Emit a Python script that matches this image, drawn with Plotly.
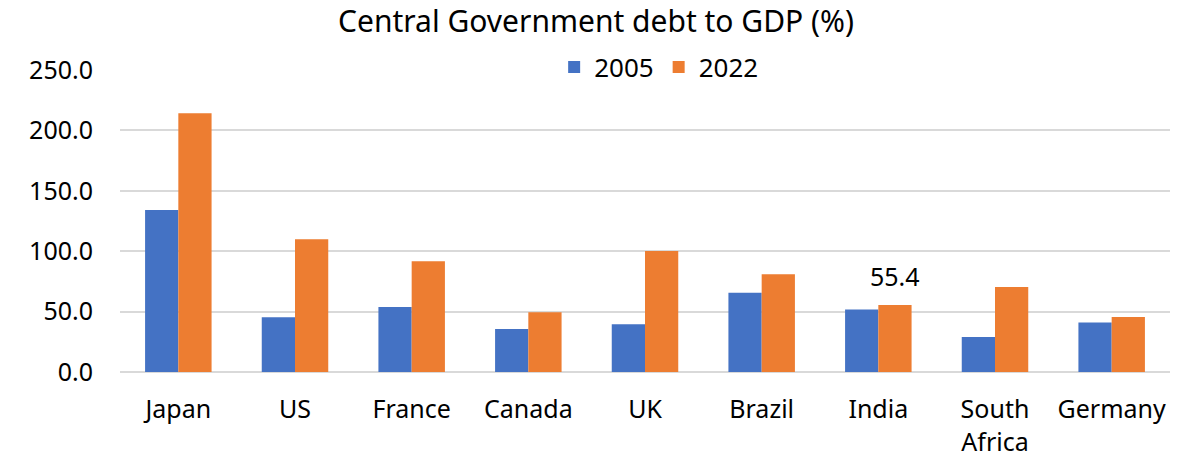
import plotly.graph_objects as go

categories = ["Japan", "US", "France", "Canada", "UK", "Brazil", "India", "South<br>Africa", "Germany"]
values_2005 = [134.1, 45.3, 53.8, 35.6, 39.5, 65.7, 51.7, 29.0, 40.9]
values_2022 = [214.1, 109.8, 91.6, 49.4, 100.2, 80.9, 55.4, 70.4, 45.5]
y_ticks = [0, 50, 100, 150, 200, 250]

FONT = "Noto Sans"

fig = go.Figure()
fig.add_trace(go.Bar(x=categories, y=values_2005, name="2005", marker=dict(color="#4472C4", line=dict(width=0))))
fig.add_trace(go.Bar(x=categories, y=values_2022, name="2022", marker=dict(color="#ED7D31", line=dict(width=0))))

fig.add_annotation(x="India", y=values_2022[6], text=f"{values_2022[6]:.1f}", showarrow=False,
                   xshift=16.6, yanchor="bottom", yshift=10,
                   font=dict(family=FONT, size=25, color="#000000"))

fig.update_layout(
    width=1192, height=456,
    margin=dict(l=120, r=22, t=70, b=84, autoexpand=False),
    paper_bgcolor="white", plot_bgcolor="white",
    font=dict(family=FONT, size=25, color="#000000"),
    title=dict(text="Central Government debt to GDP (%)", x=0.5, xanchor="center",
               y=1 - 21/456, yanchor="middle", font=dict(family=FONT, size=30, color="#000000")),
    barmode="group", bargap=0.43, bargroupgap=0,
    legend=dict(orientation="h", x=0.513, xanchor="center", y=1.01, yanchor="middle",
                font=dict(family=FONT, size=26), bgcolor="rgba(0,0,0,0)", traceorder="normal"),
    xaxis=dict(showgrid=False, showline=False, ticks="", ticklabelstandoff=20, automargin=False,
               tickfont=dict(family=FONT, size=25)),
    yaxis=dict(range=[0, 250], tickvals=y_ticks, tickformat=".1f", showgrid=True, automargin=False,
               gridcolor="#D9D9D9", gridwidth=1.5, zeroline=True, zerolinecolor="#D9D9D9",
               zerolinewidth=1.5, showline=False, ticks="", ticklabelstandoff=26,
               tickfont=dict(family=FONT, size=25)),
)

fig.write_html("out.html")
